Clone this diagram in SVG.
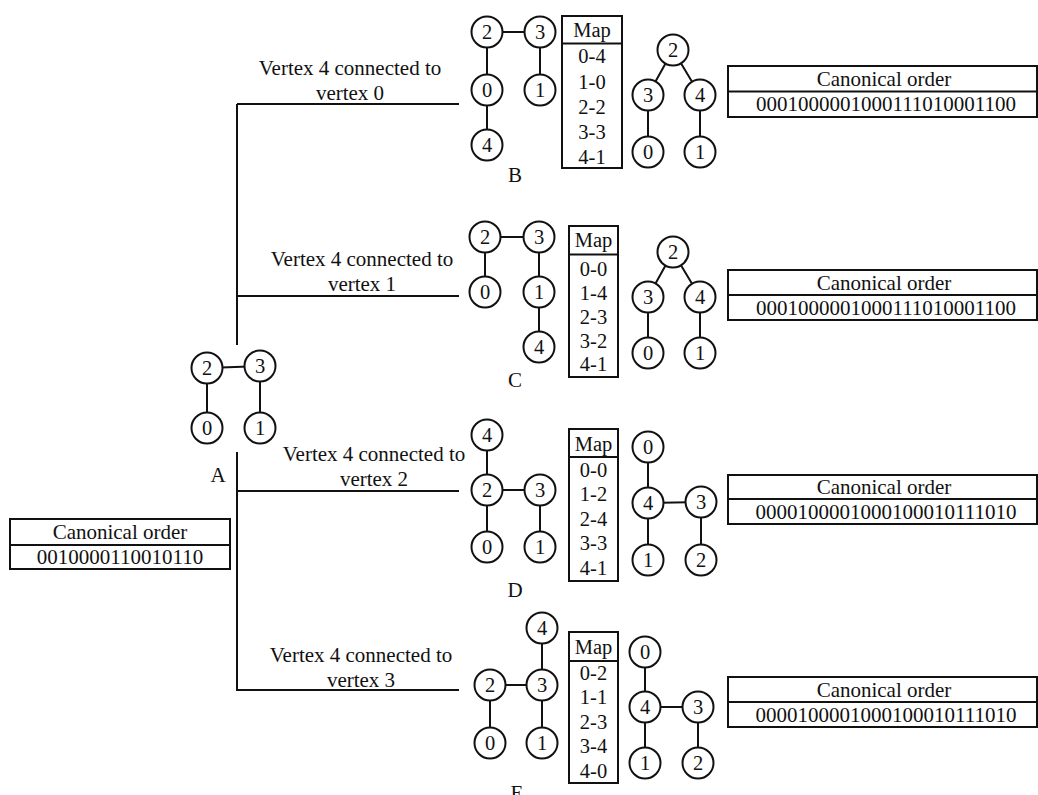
<svg xmlns="http://www.w3.org/2000/svg" width="1038" height="795" viewBox="0 0 1038 795" font-family="'Liberation Serif', 'Times New Roman', Times, serif">
  <style>
    text { font-family: 'Liberation Serif', 'Times New Roman', Times, serif; fill: #111; }
    .t { font-size: 21px; text-anchor: middle; }
    .n { font-size: 20.5px; text-anchor: middle; }
    .ln { stroke: #111; stroke-width: 2; fill: none; }
    .e { stroke: #111; stroke-width: 2; fill: none; }
    .c { fill: #fff; stroke: #111; stroke-width: 2; }
    .box { fill: #fff; stroke: #111; stroke-width: 2; }
  </style>
  <defs>
    <circle id="v" r="15.5" class="c"/>
  </defs>

  <!-- tree connectors from the base graph to each extension -->
  <g id="connectors">
    <path class="ln" d="M237,104 V345 M237,452 V691"/>
    <path class="ln" d="M237,104 H459 M237,296 H459 M237,491 H459 M237,690 H459"/>
    <text class="t" x="350" y="75">Vertex 4 connected to</text>
    <text class="t" x="350" y="100">vertex 0</text>
    <text class="t" x="362" y="266">Vertex 4 connected to</text>
    <text class="t" x="362" y="291">vertex 1</text>
    <text class="t" x="374" y="461">Vertex 4 connected to</text>
    <text class="t" x="374" y="486">vertex 2</text>
    <text class="t" x="361" y="662">Vertex 4 connected to</text>
    <text class="t" x="361" y="687">vertex 3</text>
  </g>

  <!-- base graph A -->
  <g id="graphA">
    <path class="e" d="M207,368 L260,366 M207,368 V428 M260,366 V428"/>
    <use href="#v" x="207" y="368"/><text class="n" x="207" y="375">2</text>
    <use href="#v" x="260" y="366"/><text class="n" x="260" y="373">3</text>
    <use href="#v" x="207" y="428"/><text class="n" x="207" y="435">0</text>
    <use href="#v" x="260" y="428"/><text class="n" x="260" y="435">1</text>
    <text class="t" x="218" y="482">A</text>
  </g>
  <g id="canonA">
    <rect class="box" x="10" y="519" width="220" height="50"/>
    <line class="ln" x1="10" y1="545" x2="230" y2="545"/>
    <text class="t" x="120" y="539">Canonical order</text>
    <text class="t" x="120" y="564">0010000110010110</text>
  </g>

  <!-- extension B -->
  <g id="graphB">
    <path class="e" d="M487,32 H540 M487,32 V145 M540,32 V90"/>
    <use href="#v" x="487" y="32"/><text class="n" x="487" y="39">2</text>
    <use href="#v" x="540" y="32"/><text class="n" x="540" y="39">3</text>
    <use href="#v" x="487" y="90"/><text class="n" x="487" y="97">0</text>
    <use href="#v" x="540" y="90"/><text class="n" x="540" y="97">1</text>
    <use href="#v" x="487" y="145"/><text class="n" x="487" y="152">4</text>
    <text class="t" x="515" y="182">B</text>
  </g>
  <g id="mapB">
    <rect class="box" x="562" y="16" width="60" height="152"/>
    <line class="ln" x1="562" y1="43.5" x2="622" y2="43.5"/>
    <text class="n" x="592" y="37">Map</text>
    <text class="n" x="592" y="63">0-4</text>
    <text class="n" x="592" y="89">1-0</text>
    <text class="n" x="592" y="114">2-2</text>
    <text class="n" x="592" y="139">3-3</text>
    <text class="n" x="592" y="164">4-1</text>
  </g>
  <g id="treeB">
    <path class="e" d="M673,50 L648,95 V152 M673,50 L700,95 V152"/>
    <use href="#v" x="673" y="50"/><text class="n" x="673" y="57">2</text>
    <use href="#v" x="648" y="95"/><text class="n" x="648" y="102">3</text>
    <use href="#v" x="700" y="95"/><text class="n" x="700" y="102">4</text>
    <use href="#v" x="648" y="152"/><text class="n" x="648" y="159">0</text>
    <use href="#v" x="700" y="152"/><text class="n" x="700" y="159">1</text>
  </g>
  <g id="canonB">
    <rect class="box" x="728" y="66" width="309" height="51"/>
    <line class="ln" x1="728" y1="91.5" x2="1037" y2="91.5"/>
    <text class="t" x="884" y="86">Canonical order</text>
    <text class="t" x="886" y="111">0001000001000111010001100</text>
  </g>

  <!-- extension C -->
  <g id="graphC">
    <path class="e" d="M485,237 H539 M485,237 V292 M539,237 V347"/>
    <use href="#v" x="485" y="237"/><text class="n" x="485" y="244">2</text>
    <use href="#v" x="539" y="237"/><text class="n" x="539" y="244">3</text>
    <use href="#v" x="485" y="292"/><text class="n" x="485" y="299">0</text>
    <use href="#v" x="539" y="292"/><text class="n" x="539" y="299">1</text>
    <use href="#v" x="539" y="347"/><text class="n" x="539" y="354">4</text>
    <text class="t" x="515" y="387">C</text>
  </g>
  <g id="mapC">
    <rect class="box" x="569" y="226" width="49" height="151"/>
    <line class="ln" x1="569" y1="254.5" x2="618" y2="254.5"/>
    <text class="n" x="593.5" y="247">Map</text>
    <text class="n" x="593.5" y="275.5">0-0</text>
    <text class="n" x="593.5" y="299.5">1-4</text>
    <text class="n" x="593.5" y="323.5">2-3</text>
    <text class="n" x="593.5" y="347.5">3-2</text>
    <text class="n" x="593.5" y="371">4-1</text>
  </g>
  <g id="treeC">
    <path class="e" d="M673,252 L648,297 V353 M673,252 L700,297 V353"/>
    <use href="#v" x="673" y="252"/><text class="n" x="673" y="259">2</text>
    <use href="#v" x="648" y="297"/><text class="n" x="648" y="304">3</text>
    <use href="#v" x="700" y="297"/><text class="n" x="700" y="304">4</text>
    <use href="#v" x="648" y="353"/><text class="n" x="648" y="360">0</text>
    <use href="#v" x="700" y="353"/><text class="n" x="700" y="360">1</text>
  </g>
  <g id="canonC">
    <rect class="box" x="728" y="270" width="309" height="50"/>
    <line class="ln" x1="728" y1="295" x2="1037" y2="295"/>
    <text class="t" x="884" y="289.5">Canonical order</text>
    <text class="t" x="886" y="314.5">0001000001000111010001100</text>
  </g>

  <!-- extension D -->
  <g id="graphD">
    <path class="e" d="M487,435 V547 M487,490 H540 V547"/>
    <use href="#v" x="487" y="435"/><text class="n" x="487" y="442">4</text>
    <use href="#v" x="487" y="490"/><text class="n" x="487" y="497">2</text>
    <use href="#v" x="540" y="490"/><text class="n" x="540" y="497">3</text>
    <use href="#v" x="487" y="547"/><text class="n" x="487" y="554">0</text>
    <use href="#v" x="540" y="547"/><text class="n" x="540" y="554">1</text>
    <text class="t" x="515" y="597">D</text>
  </g>
  <g id="mapD">
    <rect class="box" x="569" y="429" width="49" height="152"/>
    <line class="ln" x1="569" y1="457" x2="618" y2="457"/>
    <text class="n" x="593.5" y="450.5">Map</text>
    <text class="n" x="593.5" y="476.5">0-0</text>
    <text class="n" x="593.5" y="501">1-2</text>
    <text class="n" x="593.5" y="525.5">2-4</text>
    <text class="n" x="593.5" y="550">3-3</text>
    <text class="n" x="593.5" y="574.5">4-1</text>
  </g>
  <g id="treeD">
    <path class="e" d="M648,447 V560 M648,503 L701,502 V560"/>
    <use href="#v" x="648" y="447"/><text class="n" x="648" y="454">0</text>
    <use href="#v" x="648" y="503"/><text class="n" x="648" y="510">4</text>
    <use href="#v" x="701" y="502"/><text class="n" x="701" y="509">3</text>
    <use href="#v" x="648" y="560"/><text class="n" x="648" y="567">1</text>
    <use href="#v" x="701" y="560"/><text class="n" x="701" y="567">2</text>
  </g>
  <g id="canonD">
    <rect class="box" x="728" y="475" width="309" height="49"/>
    <line class="ln" x1="728" y1="499" x2="1037" y2="499"/>
    <text class="t" x="884" y="494">Canonical order</text>
    <text class="t" x="886" y="518.5">0000100001000100010111010</text>
  </g>

  <!-- extension E -->
  <g id="graphE">
    <path class="e" d="M542,628 V743 M490,685 H542 M490,685 V743"/>
    <use href="#v" x="542" y="628"/><text class="n" x="542" y="635">4</text>
    <use href="#v" x="490" y="685"/><text class="n" x="490" y="692">2</text>
    <use href="#v" x="542" y="685"/><text class="n" x="542" y="692">3</text>
    <use href="#v" x="490" y="743"/><text class="n" x="490" y="750">0</text>
    <use href="#v" x="542" y="743"/><text class="n" x="542" y="750">1</text>
    <text class="t" x="517" y="800">E</text>
  </g>
  <g id="mapE">
    <rect class="box" x="569" y="632" width="49" height="151"/>
    <line class="ln" x1="569" y1="661" x2="618" y2="661"/>
    <text class="n" x="593.5" y="654">Map</text>
    <text class="n" x="593.5" y="679.5">0-2</text>
    <text class="n" x="593.5" y="704">1-1</text>
    <text class="n" x="593.5" y="728.5">2-3</text>
    <text class="n" x="593.5" y="753">3-4</text>
    <text class="n" x="593.5" y="778">4-0</text>
  </g>
  <g id="treeE">
    <path class="e" d="M645,652 V763 M645,707 H698 V763"/>
    <use href="#v" x="645" y="652"/><text class="n" x="645" y="659">0</text>
    <use href="#v" x="645" y="707"/><text class="n" x="645" y="714">4</text>
    <use href="#v" x="698" y="707"/><text class="n" x="698" y="714">3</text>
    <use href="#v" x="645" y="763"/><text class="n" x="645" y="770">1</text>
    <use href="#v" x="698" y="763"/><text class="n" x="698" y="770">2</text>
  </g>
  <g id="canonE">
    <rect class="box" x="728" y="677" width="309" height="50"/>
    <line class="ln" x1="728" y1="702" x2="1037" y2="702"/>
    <text class="t" x="884" y="696.5">Canonical order</text>
    <text class="t" x="886" y="721.5">0000100001000100010111010</text>
  </g>
</svg>
